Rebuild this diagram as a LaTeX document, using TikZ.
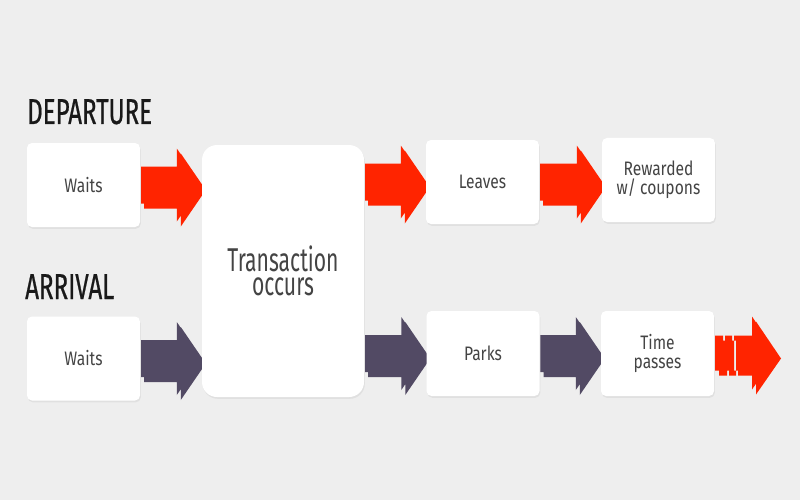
\documentclass[tikz,border=0pt]{standalone}
\usepackage{fontspec}
\setmainfont[FakeStretch=0.8]{Fira Sans}
\newfontfamily\bigfont[FakeStretch=0.64]{Fira Sans}
\newfontfamily\titlefont[FakeStretch=0.67,FakeBold=0.6]{Fira Sans}
\usetikzlibrary{calc,shadows}
\pgfdeclarelayer{back}
\pgfsetlayers{back,main}
\definecolor{bgc}{HTML}{EEEEEE}
\definecolor{redc}{HTML}{FF2400}
\definecolor{purc}{HTML}{524A64}
\definecolor{shadc}{HTML}{CDCDCD}
\definecolor{txtc}{HTML}{444444}
\tikzset{
  box/.style={rectangle, rounded corners=5pt, fill=white, minimum width=113pt, minimum height=84pt,
    align=center, text=txtc, font=\fontsize{19.5}{19}\selectfont, inner sep=0pt,
    general shadow={fill=black!12, shadow xshift=0.8pt, shadow yshift=-1.8pt}},
  bigbox/.style={box, rounded corners=15pt, minimum width=162pt, minimum height=252pt, font=\bigfont\fontsize{33}{24}\selectfont},
  title/.style={anchor=base west, inner sep=0pt, text=black!90, font=\titlefont\fontsize{36}{36}\selectfont}
}
% #1 from, #2 to, #3 colour
\newcommand\blockarrow[3]{%
  \path let \p1=(#1), \p2=(#2) in
    [fill=shadc] (\x1+4pt,\y1+18.5pt-5pt) -- (\x2-25pt+4pt,\y1+18.5pt-5pt) -- (\x2-25pt+4pt,\y1+36.5pt-5pt)
      -- (\x2+4pt,\y1-5pt) -- (\x2-25pt+4pt,\y1-36.5pt-5pt) -- (\x2-25pt+4pt,\y1-18.5pt-5pt) -- (\x1+4pt,\y1-18.5pt-5pt) -- cycle
    [fill=#3] (\x1,\y1+18.5pt) -- (\x2-25pt,\y1+18.5pt) -- (\x2-25pt,\y1+36.5pt)
      -- (\x2,\y1) -- (\x2-25pt,\y1-36.5pt) -- (\x2-25pt,\y1-18.5pt) -- (\x1,\y1-18.5pt) -- cycle;}
\begin{document}
\begin{tikzpicture}[x=1pt,y=-1pt]
\begin{pgfonlayer}{back}
\fill[bgc] (0,0) rectangle (800,500);
\end{pgfonlayer}
\useasboundingbox (0,0) rectangle (800,500);
\node[title] (dep) at (27,124) {DEPARTURE};
\node[title] (arr) at (25,299) {ARRIVAL};
\node[box] (w1) at (83.5,185) {Waits};
\node[box] (w2) at (83.5,358.5) {Waits};
\node[bigbox] (c) at (283,271) {Transaction\\occurs};
\node[box] (l) at (482.5,182) {Leaves};
\node[box] (r) at (658.5,180) {Rewarded\\w/ coupons};
\node[box, minimum height=85pt] (p) at (483,353.5) {Parks};
\node[box, minimum height=85pt] (t) at (657.5,353.5) {Time\\passes};
\coordinate (endp) at (777,353.5);
\begin{pgfonlayer}{back}
\blockarrow{w1.east}{c.west}{redc}
\blockarrow{c.east|-l.west}{l.west}{redc}
\blockarrow{l.east}{r.west}{redc}
\blockarrow{w2.east}{c.west|-w2.east}{purc}
\blockarrow{c.east|-p.west}{p.west}{purc}
\blockarrow{p.east}{t.west}{purc}
\end{pgfonlayer}
% final striped arrow
\path let \p1=(t.east), \p2=(endp) in
  [fill=shadc] (\x1+1pt+4pt,\y1+18pt-5pt) rectangle (\x1+9pt+4pt,\y1-17pt-5pt)
  (\x1+11pt+4pt,\y1+18pt-5pt) rectangle (\x1+18pt+4pt,\y1-17pt-5pt)
  (\x1+20pt+4pt,\y1+18pt-5pt) -- (\x2-25pt+4pt,\y1+18pt-5pt) -- (\x2-25pt+4pt,\y1+37pt-5pt) -- (\x2+4pt,\y1-5pt)
   -- (\x2-25pt+4pt,\y1-36pt-5pt) -- (\x2-25pt+4pt,\y1-17pt-5pt) -- (\x1+20pt+4pt,\y1-17pt-5pt) -- cycle
  [fill=redc] (\x1+1pt,\y1+18pt) rectangle (\x1+9pt,\y1-17pt)
  (\x1+11pt,\y1+18pt) rectangle (\x1+18pt,\y1-17pt)
  (\x1+20pt,\y1+18pt) -- (\x2-25pt,\y1+18pt) -- (\x2-25pt,\y1+37pt) -- (\x2,\y1)
   -- (\x2-25pt,\y1-36pt) -- (\x2-25pt,\y1-17pt) -- (\x1+20pt,\y1-17pt) -- cycle;
\end{tikzpicture}
\end{document}
